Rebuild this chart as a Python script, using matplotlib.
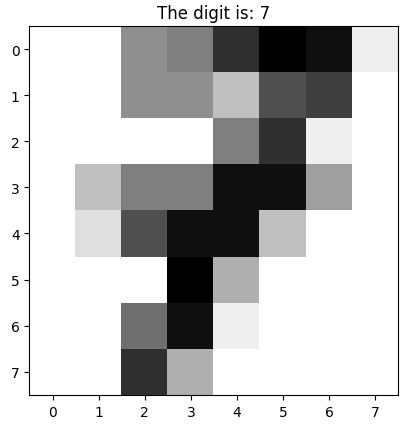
import numpy as np
import matplotlib
matplotlib.use("Agg")
import matplotlib.pyplot as plt

digit_label = 7
pixels = [
    [0, 0, 7, 8, 13, 16, 15, 1],
    [0, 0, 7, 7, 4, 11, 12, 0],
    [0, 0, 0, 0, 8, 13, 1, 0],
    [0, 4, 8, 8, 15, 15, 6, 0],
    [0, 2, 11, 15, 15, 4, 0, 0],
    [0, 0, 0, 16, 5, 0, 0, 0],
    [0, 0, 9, 15, 1, 0, 0, 0],
    [0, 0, 13, 5, 0, 0, 0, 0],
]

fig = plt.figure(figsize=(4.11, 4.35), dpi=100)
ax = fig.add_axes([0.068, 0.09, 0.905, 0.848])
ax.imshow(np.array(pixels), cmap="gray_r", vmin=0, vmax=16)
ax.set_title(f"The digit is: {digit_label}")
fig.savefig("out.png")
